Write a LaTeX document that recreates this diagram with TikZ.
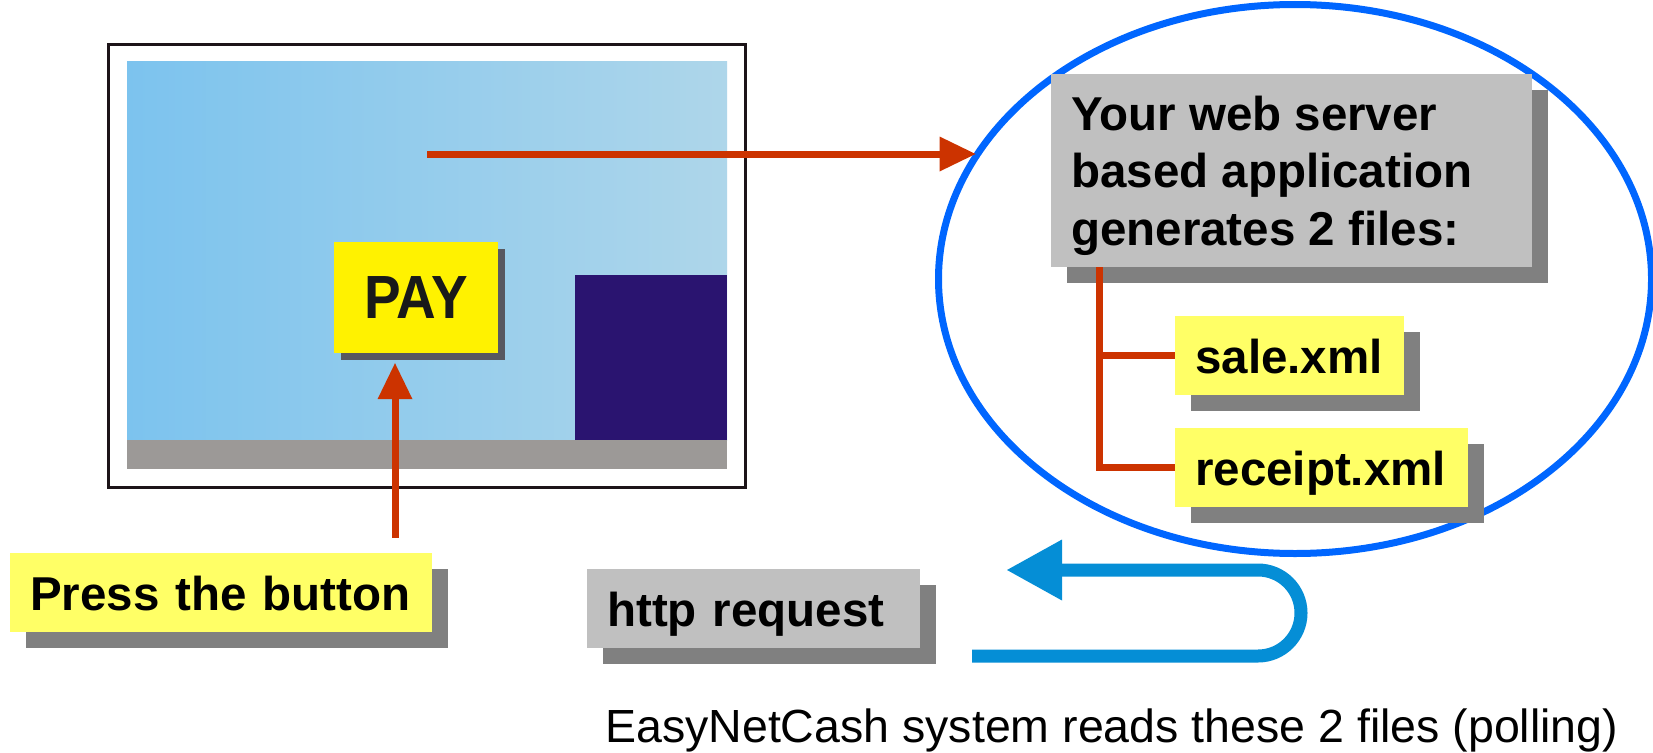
\documentclass[tikz,border=0pt]{standalone}
\usepackage{graphicx}
\usepackage{fontspec}
\setmainfont{Liberation Sans}
\usetikzlibrary{arrows.meta,shapes.geometric,shadows}

\definecolor{redarr}{RGB}{204,51,0}
\definecolor{ellblue}{RGB}{0,102,255}
\definecolor{ublue}{RGB}{5,142,214}
\definecolor{payyellow}{RGB}{255,242,0}
\definecolor{lblyellow}{RGB}{255,255,102}
\definecolor{boxgray}{RGB}{192,192,192}
\definecolor{shadowgray}{RGB}{128,128,128}
\definecolor{payshadow}{RGB}{88,88,96}
\definecolor{darkpanel}{RGB}{42,20,112}
\definecolor{stripgray}{RGB}{156,153,151}
\definecolor{scrleft}{RGB}{124,195,238}
\definecolor{scrright}{RGB}{174,214,234}
\definecolor{framecol}{RGB}{28,20,24}

\tikzset{
  boldtxt/.style={font=\fontsize{47.5}{57.5}\selectfont\bfseries},
  labelbox/.style={boldtxt, anchor=base west, inner xsep=20pt, inner ysep=12pt,
    text height=45pt, text depth=10pt, align=left,
    drop shadow={shadow xshift=16pt, shadow yshift=-16pt, fill=shadowgray, opacity=1}},
  yellowbox/.style={labelbox, fill=lblyellow},
  graybox/.style={labelbox, fill=boxgray},
  redline/.style={draw=redarr, line width=7pt},
  redarrow/.style={redline, -{Triangle[length=36pt,width=35pt,line width=0pt]}},
  panel/.style={anchor=north west, inner sep=0pt, outer sep=0pt},
}

\begin{document}
\begin{tikzpicture}[x=1pt,y=-1pt]
\useasboundingbox (0,0) rectangle (1653,752);

% application ellipse
\node[ellipse, draw=ellblue, line width=7pt, minimum width=713pt, minimum height=549pt, inner sep=0pt] (app) at (1295,279) {};

% screen
\node[panel, draw=framecol, line width=3pt, fill=white, minimum width=637pt, minimum height=443pt] (screen) at (108.5,44.5) {};
\node[panel, left color=scrleft, right color=scrright, minimum width=600pt, minimum height=378pt] (display) at (127,62) {};
\node[panel, fill=stripgray, minimum width=600pt, minimum height=29pt] (taskbar) at (127,440) {};
\node[panel, fill=darkpanel, minimum width=152pt, minimum height=165pt] (window) at (575,275) {};
\node[font=\fontsize{61}{63}\selectfont\bfseries, text=black!90, fill=payyellow, minimum width=164pt, minimum height=111pt, inner sep=0pt,
  drop shadow={shadow xshift=7pt, shadow yshift=-7pt, fill=payshadow, opacity=1}] (pay) at (416,297.5) {\scalebox{0.9}[1]{PAY}};

% server box
\node[boldtxt, anchor=base west, fill=boxgray, inner xsep=20pt, inner ysep=0pt, text height=56pt, text depth=137pt,
  drop shadow={shadow xshift=16pt, shadow yshift=-16pt, fill=shadowgray, opacity=1}] (srv) at (1051,130)
  {\parbox[t]{441pt}{\baselineskip=57.5pt Your web server\\based application\\generates 2 files:}};

% file boxes
\node[yellowbox, text width=189pt] (sale) at (1175,373) {sale.xml};
\node[yellowbox, text width=253pt] (receipt) at (1175,485) {receipt.xml};

% other labels
\node[yellowbox, text width=382pt] (press) at (10,610) {Press the button};
\node[graybox, text width=293pt] (http) at (587,626) {http request};
\node[anchor=base west, inner sep=0pt, font=\fontsize{46.5}{56}\selectfont] (note) at (605,742) {EasyNetCash system reads these 2 files (polling)};

% red connectors
\coordinate (clickpt) at (427,154);
\draw[redarrow, shorten >=4pt] (clickpt) -- (clickpt -| app.157.9);
\draw[redarrow, shorten <=15pt, shorten >=10pt] ([xshift=-21pt]pay.south |- press.north) -- ([xshift=-21pt]pay.south);
\coordinate (brk) at ([xshift=48pt]srv.south west);
\draw[redline] (brk) |- (receipt.west);
\draw[redline] (brk |- sale.west) -- (sale.west);

% polling U-turn arrow
\coordinate (pollstart) at (972,656);
\coordinate (pollend) at (1007,570);
\draw[ublue, line width=13pt, -{Triangle[length=55pt,width=61pt,line width=0pt]}]
  (pollstart) -- (1258,656) arc[start angle=90, end angle=-90, radius=43] -- (pollend);
\end{tikzpicture}
\end{document}
